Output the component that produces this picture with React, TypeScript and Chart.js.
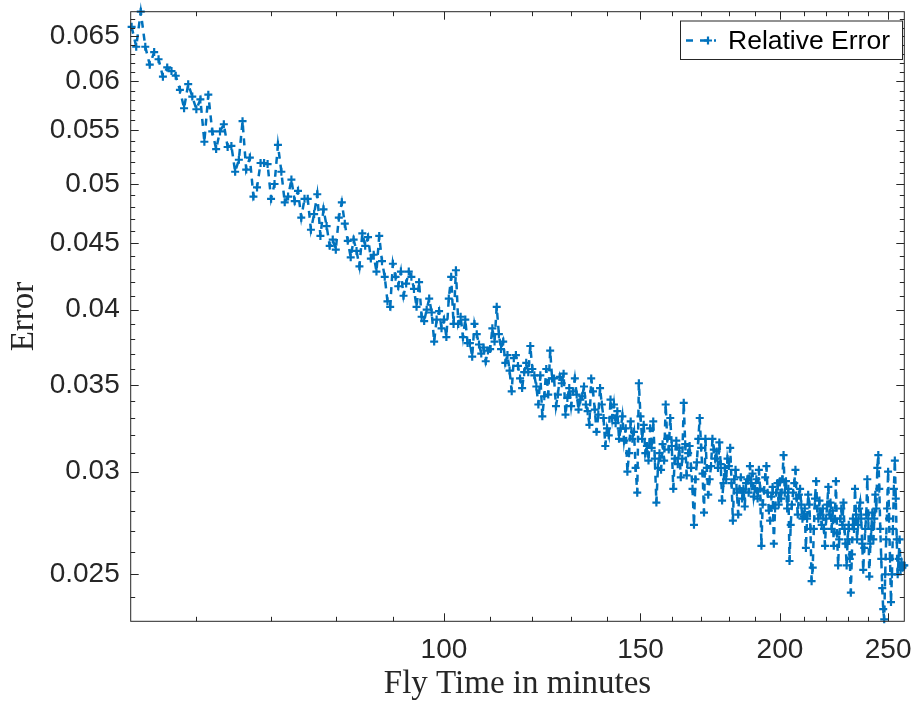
import React, { useEffect, useRef } from 'react';
import { Chart, registerables } from 'chart.js';

Chart.register(...registerables);

const flyTime = [
  52.5, 53, 53.5, 54, 54.5, 55, 55.5, 56, 56.5, 57, 57.5, 58, 58.5, 59, 59.5, 60, 60.5, 61, 61.5, 62,
  62.5, 63, 63.5, 64, 64.5, 65, 65.5, 66, 66.5, 67, 67.5, 68, 68.5, 69, 69.5, 70, 70.5, 71, 71.5, 72,
  72.5, 73, 73.5, 74, 74.5, 75, 75.5, 76, 76.5, 77, 77.5, 78, 78.5, 79, 79.5, 80, 80.5, 81, 81.5, 82,
  82.5, 83, 83.5, 84, 84.5, 85, 85.5, 86, 86.5, 87, 87.5, 88, 88.5, 89, 89.5, 90, 90.5, 91, 91.5, 92,
  92.5, 93, 93.5, 94, 94.5, 95, 95.5, 96, 96.5, 97, 97.5, 98, 98.5, 99, 99.5, 100, 100.5, 101, 101.5, 102,
  102.5, 103, 103.5, 104, 104.5, 105, 105.5, 106, 106.5, 107, 107.5, 108, 108.5, 109, 109.5, 110, 110.5, 111, 111.5, 112,
  112.5, 113, 113.5, 114, 114.5, 115, 115.5, 116, 116.5, 117, 117.5, 118, 118.5, 119, 119.5, 120, 120.5, 121, 121.5, 122,
  122.5, 123, 123.5, 124, 124.5, 125, 125.5, 126, 126.5, 127, 127.5, 128, 128.5, 129, 129.5, 130, 130.5, 131, 131.5, 132,
  132.5, 133, 133.5, 134, 134.5, 135, 135.5, 136, 136.5, 137, 137.5, 138, 138.5, 139, 139.5, 140, 140.5, 141, 141.5, 142,
  142.5, 143, 143.5, 144, 144.5, 145, 145.5, 146, 146.5, 147, 147.5, 148, 148.5, 149, 149.5, 150, 150.5, 151, 151.5, 152,
  152.5, 153, 153.5, 154, 154.5, 155, 155.5, 156, 156.5, 157, 157.5, 158, 158.5, 159, 159.5, 160, 160.5, 161, 161.5, 162,
  162.5, 163, 163.5, 164, 164.5, 165, 165.5, 166, 166.5, 167, 167.5, 168, 168.5, 169, 169.5, 170, 170.5, 171, 171.5, 172,
  172.5, 173, 173.5, 174, 174.5, 175, 175.5, 176, 176.5, 177, 177.5, 178, 178.5, 179, 179.5, 180, 180.5, 181, 181.5, 182,
  182.5, 183, 183.5, 184, 184.5, 185, 185.5, 186, 186.5, 187, 187.5, 188, 188.5, 189, 189.5, 190, 190.5, 191, 191.5, 192,
  192.5, 193, 193.5, 194, 194.5, 195, 195.5, 196, 196.5, 197, 197.5, 198, 198.5, 199, 199.5, 200, 200.5, 201, 201.5, 202,
  202.5, 203, 203.5, 204, 204.5, 205, 205.5, 206, 206.5, 207, 207.5, 208, 208.5, 209, 209.5, 210, 210.5, 211, 211.5, 212,
  212.5, 213, 213.5, 214, 214.5, 215, 215.5, 216, 216.5, 217, 217.5, 218, 218.5, 219, 219.5, 220, 220.5, 221, 221.5, 222,
  222.5, 223, 223.5, 224, 224.5, 225, 225.5, 226, 226.5, 227, 227.5, 228, 228.5, 229, 229.5, 230, 230.5, 231, 231.5, 232,
  232.5, 233, 233.5, 234, 234.5, 235, 235.5, 236, 236.5, 237, 237.5, 238, 238.5, 239, 239.5, 240, 240.5, 241, 241.5, 242,
  242.5, 243, 243.5, 244, 244.5, 245, 245.5, 246, 246.5, 247, 247.5, 248, 248.5, 249, 249.5, 250, 250.5, 251, 251.5, 252,
  252.5, 253, 253.5, 254, 254.5, 255, 255.5, 256, 256.5, 257, 257.5, 258, 258.5,
];

const relativeError = [
  0.0661, 0.0638, 0.0679, 0.0638, 0.0618, 0.0632,
  0.0624, 0.0605, 0.0615, 0.0611, 0.0606, 0.0591, 0.0572, 0.0597, 0.0584, 0.0571,
  0.0581, 0.0539, 0.0586, 0.0549, 0.0532, 0.0549, 0.0556, 0.0534, 0.0535, 0.0511,
  0.0522, 0.0559, 0.0513, 0.0524, 0.0489, 0.0497, 0.0519, 0.0519, 0.0518, 0.0487,
  0.0500, 0.0536, 0.0511, 0.0484, 0.0489, 0.0504, 0.0485, 0.0494, 0.0471, 0.0487,
  0.0487, 0.0461, 0.0474, 0.0491, 0.0456, 0.0478, 0.0464, 0.0448, 0.0453, 0.0445,
  0.0471, 0.0484, 0.0466, 0.0452, 0.0439, 0.0453, 0.0444, 0.0432, 0.0458, 0.0448,
  0.0455, 0.0438, 0.0441, 0.0428, 0.0456, 0.0436, 0.0424, 0.0406, 0.0402, 0.0434,
  0.0424, 0.0417, 0.0428, 0.0410, 0.0419, 0.0428, 0.0424, 0.0415, 0.0402, 0.0420,
  0.0395, 0.0392, 0.0400, 0.0408, 0.0398, 0.0378, 0.0393, 0.0399, 0.0387, 0.0393,
  0.0381, 0.0408, 0.0424, 0.0390, 0.0429, 0.0390, 0.0395, 0.0381, 0.0393, 0.0377,
  0.0377, 0.0368, 0.0390, 0.0383, 0.0376, 0.0370, 0.0374, 0.0365, 0.0372, 0.0373,
  0.0387, 0.0378, 0.0402, 0.0383, 0.0373, 0.0378, 0.0364, 0.0369, 0.0359, 0.0346,
  0.0367, 0.0369, 0.0362, 0.0354, 0.0348, 0.0358, 0.0364, 0.0358, 0.0375, 0.0360,
  0.0356, 0.0349, 0.0338, 0.0356, 0.0331, 0.0343, 0.0360, 0.0344, 0.0372, 0.0354,
  0.0354, 0.0337, 0.0344, 0.0355, 0.0351, 0.0357, 0.0332, 0.0342, 0.0348, 0.0337,
  0.0346, 0.0354, 0.0344, 0.0335, 0.0341, 0.0343, 0.0349, 0.0338, 0.0334, 0.0326,
  0.0354, 0.0346, 0.0335, 0.0322, 0.0332, 0.0348, 0.0338, 0.0330, 0.0314, 0.0324,
  0.0320, 0.0341, 0.0330, 0.0338, 0.0327, 0.0334, 0.0318, 0.0324, 0.0331, 0.0317,
  0.0324, 0.0300, 0.0310, 0.0328, 0.0318, 0.0322, 0.0302, 0.0289, 0.0351, 0.0331,
  0.0318, 0.0326, 0.0310, 0.0314, 0.0306, 0.0324, 0.0313, 0.0328, 0.0307, 0.0284,
  0.0302, 0.0310, 0.0301, 0.0315, 0.0306, 0.0338, 0.0318, 0.0312, 0.0330, 0.0314,
  0.0291, 0.0307, 0.0317, 0.0304, 0.0313, 0.0297, 0.0307, 0.0339, 0.0315, 0.0298,
  0.0310, 0.0314, 0.0302, 0.0291, 0.0273, 0.0296, 0.0305, 0.0318, 0.0330, 0.0313,
  0.0299, 0.0279, 0.0318, 0.0302, 0.0288, 0.0296, 0.0303, 0.0318, 0.0312, 0.0307,
  0.0311, 0.0302, 0.0316, 0.0304, 0.0285, 0.0294, 0.0302, 0.0296, 0.0307, 0.0303,
  0.0313, 0.0294, 0.0275, 0.0296, 0.0301, 0.0289, 0.0278, 0.0291, 0.0297, 0.0286,
  0.0291, 0.0282, 0.0294, 0.0296, 0.0289, 0.0303, 0.0294, 0.0299, 0.0287, 0.0291,
  0.0296, 0.0286, 0.0301, 0.0291, 0.0263, 0.0283, 0.0290, 0.0297, 0.0303, 0.0289,
  0.0280, 0.0275, 0.0287, 0.0292, 0.0264, 0.0281, 0.0289, 0.0294, 0.0283, 0.0295,
  0.0286, 0.0296, 0.0309, 0.0289, 0.0295, 0.0281, 0.0291, 0.0256, 0.0273, 0.0283,
  0.0289, 0.0294, 0.0301, 0.0286, 0.0278, 0.0288, 0.0291, 0.0283, 0.0276, 0.0277,
  0.0281, 0.0262, 0.0276, 0.0288, 0.0283, 0.0271, 0.0247, 0.0253, 0.0271, 0.0286,
  0.0295, 0.0281, 0.0276, 0.0285, 0.0278, 0.0273, 0.0281, 0.0271, 0.0263, 0.0276,
  0.0283, 0.0292, 0.0278, 0.0284, 0.0271, 0.0280, 0.0263, 0.0276, 0.0295, 0.0269,
  0.0254, 0.0266, 0.0276, 0.0281, 0.0273, 0.0284, 0.0271, 0.0264, 0.0254, 0.0266,
  0.0273, 0.0257, 0.0242, 0.0259, 0.0276, 0.0271, 0.0291, 0.0278, 0.0266, 0.0273,
  0.0281, 0.0284, 0.0276, 0.0264, 0.0252, 0.0262, 0.0271, 0.0278, 0.0296, 0.0276,
  0.0249, 0.0264, 0.0271, 0.0279, 0.0266, 0.0276, 0.0288, 0.0281, 0.0302, 0.0309,
  0.0291, 0.0271, 0.0257, 0.0244, 0.0235, 0.02308, 0.0250, 0.0266, 0.0281, 0.0300,
  0.0276, 0.0257, 0.0238, 0.0250, 0.0271, 0.0291, 0.0306, 0.0286, 0.0266, 0.0250,
  0.0257, 0.0266, 0.0252, 0.0255, 0.0253, 0.0254, 0.0254,
];

const xMajorTicks = [100, 150, 200, 250];
const xTickLabels = ['100', '150', '200', '250'];
const xMinorTicks = [60, 70, 80, 90, 110, 120, 130, 140, 160, 170, 180, 190, 210, 220, 230, 240];
const yMajorTicks = [0.025, 0.03, 0.035, 0.04, 0.045, 0.05, 0.055, 0.06, 0.065];
const yTickLabels = ['0.025', '0.03', '0.035', '0.04', '0.045', '0.05', '0.055', '0.06', '0.065'];
const yMinorTicks = [
  0.024, 0.026, 0.027, 0.028, 0.029, 0.031, 0.032, 0.033, 0.034, 0.036, 0.037, 0.038, 0.039,
  0.041, 0.042, 0.043, 0.044, 0.046, 0.047, 0.048, 0.049, 0.051, 0.052, 0.053, 0.054, 0.056,
  0.057, 0.058, 0.059, 0.061, 0.062, 0.063, 0.064, 0.066, 0.067,
];
const xRange = [52.4, 258.5];
const yRange = [0.02307, 0.0679];
const seriesLabel = 'Relative Error';
const xTitle = 'Fly Time in minutes';
const yTitle = 'Error';

const LINE_COLOR = '#0072BD';
const AXIS_COLOR = '#262626';
const SANS = '"Liberation Sans", Arial, Helvetica, sans-serif';
const SERIF = '"Liberation Serif", "Times New Roman", serif';

const framePlugin = {
  id: 'matlabFrame',
  afterDatasetsDraw(chart: any) {
    const { ctx, chartArea } = chart;
    const { left, right, top, bottom } = chartArea;
    const xs = chart.scales.x;
    const ys = chart.scales.y;
    ctx.save();
    ctx.strokeStyle = AXIS_COLOR;
    ctx.lineWidth = 1;
    ctx.setLineDash([]);
    const seg = (x1: number, y1: number, x2: number, y2: number) => {
      ctx.beginPath();
      ctx.moveTo(x1, y1);
      ctx.lineTo(x2, y2);
      ctx.stroke();
    };
    const xTick = (v: number, len: number) => {
      const p = Math.round(xs.getPixelForValue(v)) + 0.5;
      seg(p, bottom, p, bottom - len);
      seg(p, top, p, top + len);
    };
    const yTick = (v: number, len: number) => {
      const p = Math.round(ys.getPixelForValue(v)) + 0.5;
      seg(left, p, left + len, p);
      seg(right, p, right - len, p);
    };
    xMajorTicks.forEach((v) => xTick(v, 8));
    xMinorTicks.forEach((v) => xTick(v, 4.5));
    yMajorTicks.forEach((v) => yTick(v, 8));
    yMinorTicks.forEach((v) => yTick(v, 4.5));
    ctx.strokeRect(left, top, right - left, bottom - top);
    ctx.restore();
  },
  afterDraw(chart: any) {
    const { ctx } = chart;
    ctx.save();
    ctx.fillStyle = '#ffffff';
    ctx.fillRect(680.5, 21, 222, 38.5);
    ctx.strokeStyle = AXIS_COLOR;
    ctx.lineWidth = 1;
    ctx.strokeRect(680.5, 21, 222, 38.5);
    const cy = 40.5;
    ctx.strokeStyle = LINE_COLOR;
    ctx.lineWidth = 2.5;
    ctx.setLineDash([7, 7]);
    ctx.beginPath();
    ctx.moveTo(686, cy);
    ctx.lineTo(716, cy);
    ctx.stroke();
    ctx.setLineDash([]);
    ctx.lineWidth = 2.2;
    ctx.beginPath();
    ctx.moveTo(704, cy);
    ctx.lineTo(712, cy);
    ctx.moveTo(708, cy - 4);
    ctx.lineTo(708, cy + 4);
    ctx.stroke();
    ctx.fillStyle = '#000000';
    ctx.font = `26.5px ${SANS}`;
    ctx.textBaseline = 'middle';
    ctx.textAlign = 'left';
    ctx.fillText(seriesLabel, 728, cy + 1);
    ctx.restore();
  },
};

export default function App() {
  const canvasRef = useRef<HTMLCanvasElement | null>(null);

  useEffect(() => {
    const canvas = canvasRef.current;
    if (!canvas) return;
    const points = flyTime.map((t, i) => ({ x: t, y: relativeError[i] }));
    const chart = new Chart(canvas, {
      type: 'line',
      data: {
        datasets: [
          {
            label: seriesLabel,
            data: points,
            borderColor: LINE_COLOR,
            backgroundColor: LINE_COLOR,
            borderWidth: 2.5,
            borderDash: [7, 6],
            tension: 0,
            fill: false,
            pointStyle: 'cross',
            pointRadius: 4,
            pointBorderWidth: 2.2,
            pointBorderColor: LINE_COLOR,
            pointBackgroundColor: LINE_COLOR,
            clip: false,
          } as any,
        ],
      },
      options: {
        animation: false,
        responsive: false,
        devicePixelRatio: 1,
        events: [],
        layout: { padding: { top: 11.7, right: 10.7, left: 0, bottom: 0 } },
        plugins: {
          legend: { display: false },
          tooltip: { enabled: false },
        },
        scales: {
          x: {
            type: 'logarithmic',
            min: xRange[0],
            max: xRange[1],
            grid: { display: false, drawTicks: false },
            border: { display: false },
            afterBuildTicks: (scale: any) => {
              scale.ticks = xMajorTicks.map((v) => ({ value: v }));
            },
            afterFit: (scale: any) => {
              scale.height = 84.7;
              scale.paddingLeft = 0;
              scale.paddingRight = 0;
              scale.paddingTop = 0;
              scale.paddingBottom = 0;
            },
            ticks: {
              autoSkip: false,
              maxRotation: 0,
              padding: 12,
              color: AXIS_COLOR,
              font: { family: SANS, size: 28 },
              callback: (_v: any, i: number) => xTickLabels[i],
            },
            title: {
              display: true,
              text: xTitle,
              color: AXIS_COLOR,
              font: { family: SERIF, size: 33 },
              padding: { top: 0, bottom: 2 },
            },
          },
          y: {
            type: 'logarithmic',
            min: yRange[0],
            max: yRange[1],
            grid: { display: false, drawTicks: false },
            border: { display: false },
            afterBuildTicks: (scale: any) => {
              scale.ticks = yMajorTicks.map((v) => ({ value: v }));
            },
            afterFit: (scale: any) => {
              scale.width = 130.7;
              scale.paddingLeft = 0;
              scale.paddingRight = 0;
              scale.paddingTop = 0;
              scale.paddingBottom = 0;
            },
            ticks: {
              autoSkip: false,
              padding: 11,
              color: AXIS_COLOR,
              font: { family: SANS, size: 28 },
              callback: (_v: any, i: number) => yTickLabels[i],
            },
            title: {
              display: true,
              text: yTitle,
              color: AXIS_COLOR,
              font: { family: SERIF, size: 33 },
              padding: { top: 5, bottom: 0 },
            },
          },
        },
      } as any,
      plugins: [framePlugin],
    });
    return () => chart.destroy();
  }, []);

  return (
    <div style={{ position: 'fixed', left: 0, top: 0, width: 915, height: 706, background: '#ffffff' }}>
      <canvas ref={canvasRef} width={915} height={706} style={{ display: 'block' }} />
    </div>
  );
}
